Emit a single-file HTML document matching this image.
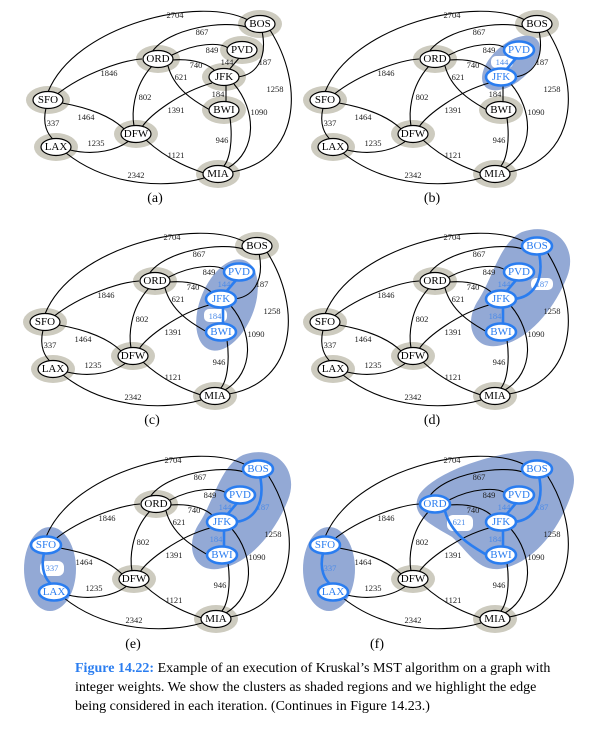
<!DOCTYPE html>
<html><head><meta charset="utf-8"><style>
html,body{margin:0;padding:0;background:#fff;}
svg{display:block;}
.n{font:11px "Liberation Serif",serif;text-anchor:middle;dominant-baseline:central;fill:#000}
.w{font:8.5px "Liberation Serif",serif;text-anchor:middle;dominant-baseline:central;fill:#222}
.nb{fill:#2a7df0}
.wb{fill:#4a8ae8}
.cap{font:14px "Liberation Serif",serif;text-anchor:middle;fill:#000}
.e{fill:none;stroke:#000;stroke-width:1.1}
.eb{fill:none;stroke:#2a7df0;stroke-width:2.6}
.h{fill:#cdcbbf}
.cl{fill:#93a9d5}
.ne{fill:#fff;stroke:#000;stroke-width:1.2}
.neb{fill:#fff;stroke:#2a7df0;stroke-width:2.6}
.hl{fill:#fff}
</style></head><body>
<svg width="603" height="735" viewBox="0 0 603 735" xmlns="http://www.w3.org/2000/svg">
<defs>
<g id="edges">
<path class="e" d="M48,92 C75,25 200,-5 248,20"/>
<path class="e" d="M152,52 C168,28 225,20 246,27"/>
<path class="e" d="M172,55 C195,43 220,42 228,48"/>
<path class="e" d="M172,60 C195,58 210,65 216,72"/>
<path class="e" d="M240,57 L228,71"/>
<path class="e" d="M262,31 C268,60 255,76 236,77"/>
<path class="e" d="M270,30 C305,85 300,160 232,172"/>
<path class="e" d="M56,95 C85,72 125,60 142,59"/>
<path class="e" d="M168,66 C175,92 200,104 210,110"/>
<path class="e" d="M152,66 C132,88 132,115 134,126"/>
<path class="e" d="M226,85 L226,102"/>
<path class="e" d="M212,83 C180,92 150,115 142,127"/>
<path class="e" d="M234,84 C256,110 258,150 228,168"/>
<path class="e" d="M230,118 C233,140 230,160 223,167"/>
<path class="e" d="M46,108 C42,125 48,135 54,140"/>
<path class="e" d="M62,103 C90,108 112,117 124,129"/>
<path class="e" d="M70,150 C95,156 118,150 130,140"/>
<path class="e" d="M146,140 C170,162 195,170 204,173"/>
<path class="e" d="M66,153 C110,188 170,188 204,178"/>
</g>
</defs>

<!-- (a) -->
<g transform="translate(0,0)">
<ellipse class="h" cx="260" cy="24" rx="22" ry="14"/><ellipse class="h" cx="242" cy="50" rx="22" ry="14"/>
<ellipse class="h" cx="158" cy="59" rx="22" ry="14"/><ellipse class="h" cx="224" cy="77" rx="22" ry="14"/>
<ellipse class="h" cx="48" cy="100" rx="22" ry="14"/><ellipse class="h" cx="224" cy="110" rx="22" ry="14"/>
<ellipse class="h" cx="136" cy="134" rx="22" ry="14"/><ellipse class="h" cx="56" cy="147" rx="22" ry="14"/>
<ellipse class="h" cx="218" cy="174" rx="22" ry="14"/>
<use href="#edges"/>
<ellipse class="ne" cx="260" cy="24" rx="15" ry="8.5"/><ellipse class="ne" cx="242" cy="50" rx="15" ry="8.5"/>
<ellipse class="ne" cx="158" cy="59" rx="15" ry="8.5"/><ellipse class="ne" cx="224" cy="77" rx="15" ry="8.5"/>
<ellipse class="ne" cx="48" cy="100" rx="15" ry="8.5"/><ellipse class="ne" cx="224" cy="110" rx="15" ry="8.5"/>
<ellipse class="ne" cx="136" cy="134" rx="15" ry="8.5"/><ellipse class="ne" cx="56" cy="147" rx="15" ry="8.5"/>
<ellipse class="ne" cx="218" cy="174" rx="15" ry="8.5"/>
<text class="n" x="260" y="24">BOS</text><text class="n" x="242" y="50">PVD</text><text class="n" x="158" y="59">ORD</text>
<text class="n" x="224" y="77">JFK</text><text class="n" x="48" y="100">SFO</text><text class="n" x="224" y="110">BWI</text>
<text class="n" x="136" y="134">DFW</text><text class="n" x="56" y="147">LAX</text><text class="n" x="218" y="174">MIA</text>
<text class="w" x="175" y="15">2704</text><text class="w" x="202" y="32">867</text><text class="w" x="212" y="50">849</text>
<text class="w" x="196" y="65">740</text><text class="w" x="227" y="62">144</text><text class="w" x="265" y="62">187</text>
<text class="w" x="275" y="89">1258</text><text class="w" x="109" y="73">1846</text><text class="w" x="181" y="77">621</text>
<text class="w" x="145" y="97">802</text><text class="w" x="218" y="94">184</text><text class="w" x="176" y="110">1391</text>
<text class="w" x="259" y="112">1090</text><text class="w" x="222" y="140">946</text><text class="w" x="53" y="123">337</text>
<text class="w" x="86" y="117">1464</text><text class="w" x="96" y="143">1235</text><text class="w" x="176" y="155">1121</text>
<text class="w" x="136" y="175">2342</text>
<text class="cap" x="155" y="202">(a)</text>
</g>

<!-- (b) -->
<g transform="translate(277,0)">
<ellipse class="h" cx="260" cy="24" rx="22" ry="14"/>
<ellipse class="cl" cx="234" cy="63" rx="35" ry="19" transform="rotate(-42 234 63)"/>
<ellipse class="h" cx="158" cy="59" rx="22" ry="14"/>
<ellipse class="h" cx="48" cy="100" rx="22" ry="14"/><ellipse class="h" cx="224" cy="110" rx="22" ry="14"/>
<ellipse class="h" cx="136" cy="134" rx="22" ry="14"/><ellipse class="h" cx="56" cy="147" rx="22" ry="14"/>
<ellipse class="h" cx="218" cy="174" rx="22" ry="14"/>
<rect class="hl" x="214" y="56" width="22" height="12" rx="5"/>
<use href="#edges"/>
<path class="eb" d="M240,57 L228,71"/>
<ellipse class="ne" cx="260" cy="24" rx="15" ry="8.5"/><ellipse class="neb" cx="242" cy="50" rx="15" ry="8.5"/>
<ellipse class="ne" cx="158" cy="59" rx="15" ry="8.5"/><ellipse class="neb" cx="224" cy="77" rx="15" ry="8.5"/>
<ellipse class="ne" cx="48" cy="100" rx="15" ry="8.5"/><ellipse class="ne" cx="224" cy="110" rx="15" ry="8.5"/>
<ellipse class="ne" cx="136" cy="134" rx="15" ry="8.5"/><ellipse class="ne" cx="56" cy="147" rx="15" ry="8.5"/>
<ellipse class="ne" cx="218" cy="174" rx="15" ry="8.5"/>
<text class="n" x="260" y="24">BOS</text><text class="n nb" x="242" y="50">PVD</text><text class="n" x="158" y="59">ORD</text>
<text class="n nb" x="224" y="77">JFK</text><text class="n" x="48" y="100">SFO</text><text class="n" x="224" y="110">BWI</text>
<text class="n" x="136" y="134">DFW</text><text class="n" x="56" y="147">LAX</text><text class="n" x="218" y="174">MIA</text>
<text class="w" x="175" y="15">2704</text><text class="w" x="202" y="32">867</text><text class="w" x="212" y="50">849</text>
<text class="w" x="196" y="65">740</text><text class="w wb" x="225" y="62">144</text><text class="w" x="265" y="62">187</text>
<text class="w" x="275" y="89">1258</text><text class="w" x="109" y="73">1846</text><text class="w" x="181" y="77">621</text>
<text class="w" x="145" y="97">802</text><text class="w" x="218" y="94">184</text><text class="w" x="176" y="110">1391</text>
<text class="w" x="259" y="112">1090</text><text class="w" x="222" y="140">946</text><text class="w" x="53" y="123">337</text>
<text class="w" x="86" y="117">1464</text><text class="w" x="96" y="143">1235</text><text class="w" x="176" y="155">1121</text>
<text class="w" x="136" y="175">2342</text>
<text class="cap" x="155" y="202">(b)</text>
</g>

<!-- (c) -->
<g transform="translate(-3,222)">
<ellipse class="h" cx="260" cy="24" rx="22" ry="14"/>
<ellipse class="cl" cx="230" cy="83" rx="48" ry="27" transform="rotate(-68 230 83)"/>
<ellipse class="h" cx="158" cy="59" rx="22" ry="14"/>
<ellipse class="h" cx="48" cy="100" rx="22" ry="14"/>
<ellipse class="h" cx="136" cy="134" rx="22" ry="14"/><ellipse class="h" cx="56" cy="147" rx="22" ry="14"/>
<ellipse class="h" cx="218" cy="174" rx="22" ry="14"/>
<rect class="hl" x="207" y="87" width="23" height="13" rx="5"/>
<use href="#edges"/>
<path class="eb" d="M240,57 L228,71"/><path class="eb" d="M226,85 L226,102"/>
<ellipse class="ne" cx="260" cy="24" rx="15" ry="8.5"/><ellipse class="neb" cx="242" cy="50" rx="15" ry="8.5"/>
<ellipse class="ne" cx="158" cy="59" rx="15" ry="8.5"/><ellipse class="neb" cx="224" cy="77" rx="15" ry="8.5"/>
<ellipse class="ne" cx="48" cy="100" rx="15" ry="8.5"/><ellipse class="neb" cx="224" cy="110" rx="15" ry="8.5"/>
<ellipse class="ne" cx="136" cy="134" rx="15" ry="8.5"/><ellipse class="ne" cx="56" cy="147" rx="15" ry="8.5"/>
<ellipse class="ne" cx="218" cy="174" rx="15" ry="8.5"/>
<text class="n" x="260" y="24">BOS</text><text class="n nb" x="242" y="50">PVD</text><text class="n" x="158" y="59">ORD</text>
<text class="n nb" x="224" y="77">JFK</text><text class="n" x="48" y="100">SFO</text><text class="n nb" x="224" y="110">BWI</text>
<text class="n" x="136" y="134">DFW</text><text class="n" x="56" y="147">LAX</text><text class="n" x="218" y="174">MIA</text>
<text class="w" x="175" y="15">2704</text><text class="w" x="202" y="32">867</text><text class="w" x="212" y="50">849</text>
<text class="w" x="196" y="65">740</text><text class="w wb" x="227" y="62">144</text><text class="w" x="265" y="62">187</text>
<text class="w" x="275" y="89">1258</text><text class="w" x="109" y="73">1846</text><text class="w" x="181" y="77">621</text>
<text class="w" x="145" y="97">802</text><text class="w wb" x="218" y="94">184</text><text class="w" x="176" y="110">1391</text>
<text class="w" x="259" y="112">1090</text><text class="w" x="222" y="140">946</text><text class="w" x="53" y="123">337</text>
<text class="w" x="86" y="117">1464</text><text class="w" x="96" y="143">1235</text><text class="w" x="176" y="155">1121</text>
<text class="w" x="136" y="175">2342</text>
<text class="cap" x="155" y="202">(c)</text>
</g>

<!-- (d) -->
<g transform="translate(277,222)">
<path class="cl" d="M245,10 C278,-2 302,25 290,55 C277,88 250,120 220,124 C195,127 186,100 202,77 C216,55 223,20 245,10 Z"/>
<ellipse class="h" cx="158" cy="59" rx="22" ry="14"/>
<ellipse class="h" cx="48" cy="100" rx="22" ry="14"/>
<ellipse class="h" cx="136" cy="134" rx="22" ry="14"/><ellipse class="h" cx="56" cy="147" rx="22" ry="14"/>
<ellipse class="h" cx="218" cy="174" rx="22" ry="14"/>
<rect class="hl" x="254" y="56" width="22" height="12" rx="5"/>
<use href="#edges"/>
<path class="eb" d="M240,57 L228,71"/><path class="eb" d="M226,85 L226,102"/><path class="eb" d="M262,31 C268,60 255,76 236,77"/>
<ellipse class="neb" cx="260" cy="24" rx="15" ry="8.5"/><ellipse class="neb" cx="242" cy="50" rx="15" ry="8.5"/>
<ellipse class="ne" cx="158" cy="59" rx="15" ry="8.5"/><ellipse class="neb" cx="224" cy="77" rx="15" ry="8.5"/>
<ellipse class="ne" cx="48" cy="100" rx="15" ry="8.5"/><ellipse class="neb" cx="224" cy="110" rx="15" ry="8.5"/>
<ellipse class="ne" cx="136" cy="134" rx="15" ry="8.5"/><ellipse class="ne" cx="56" cy="147" rx="15" ry="8.5"/>
<ellipse class="ne" cx="218" cy="174" rx="15" ry="8.5"/>
<text class="n nb" x="260" y="24">BOS</text><text class="n nb" x="242" y="50">PVD</text><text class="n" x="158" y="59">ORD</text>
<text class="n nb" x="224" y="77">JFK</text><text class="n" x="48" y="100">SFO</text><text class="n nb" x="224" y="110">BWI</text>
<text class="n" x="136" y="134">DFW</text><text class="n" x="56" y="147">LAX</text><text class="n" x="218" y="174">MIA</text>
<text class="w" x="175" y="15">2704</text><text class="w" x="202" y="32">867</text><text class="w" x="212" y="50">849</text>
<text class="w" x="196" y="65">740</text><text class="w wb" x="227" y="62">144</text><text class="w wb" x="265" y="62">187</text>
<text class="w" x="275" y="89">1258</text><text class="w" x="109" y="73">1846</text><text class="w" x="181" y="77">621</text>
<text class="w" x="145" y="97">802</text><text class="w wb" x="218" y="94">184</text><text class="w" x="176" y="110">1391</text>
<text class="w" x="259" y="112">1090</text><text class="w" x="222" y="140">946</text><text class="w" x="53" y="123">337</text>
<text class="w" x="86" y="117">1464</text><text class="w" x="96" y="143">1235</text><text class="w" x="176" y="155">1121</text>
<text class="w" x="136" y="175">2342</text>
<text class="cap" x="155" y="202">(d)</text>
</g>

<!-- (e) -->
<g transform="translate(-2,445)">
<path class="cl" d="M245,10 C278,-2 302,25 290,55 C277,88 250,120 220,124 C195,127 186,100 202,77 C216,55 223,20 245,10 Z"/>
<ellipse class="cl" cx="52" cy="124" rx="26" ry="42"/>
<ellipse class="h" cx="158" cy="59" rx="22" ry="14"/>
<ellipse class="h" cx="136" cy="134" rx="22" ry="14"/>
<ellipse class="h" cx="218" cy="174" rx="22" ry="14"/>
<rect class="hl" x="42" y="116" width="24" height="15" rx="6"/>
<use href="#edges"/>
<path class="eb" d="M240,57 L228,71"/><path class="eb" d="M226,85 L226,102"/><path class="eb" d="M262,31 C268,60 255,76 236,77"/>
<path class="eb" d="M46,108 C42,125 48,135 54,140"/>
<ellipse class="neb" cx="260" cy="24" rx="15" ry="8.5"/><ellipse class="neb" cx="242" cy="50" rx="15" ry="8.5"/>
<ellipse class="ne" cx="158" cy="59" rx="15" ry="8.5"/><ellipse class="neb" cx="224" cy="77" rx="15" ry="8.5"/>
<ellipse class="neb" cx="48" cy="100" rx="15" ry="8.5"/><ellipse class="neb" cx="224" cy="110" rx="15" ry="8.5"/>
<ellipse class="ne" cx="136" cy="134" rx="15" ry="8.5"/><ellipse class="neb" cx="56" cy="147" rx="15" ry="8.5"/>
<ellipse class="ne" cx="218" cy="174" rx="15" ry="8.5"/>
<text class="n nb" x="260" y="24">BOS</text><text class="n nb" x="242" y="50">PVD</text><text class="n" x="158" y="59">ORD</text>
<text class="n nb" x="224" y="77">JFK</text><text class="n nb" x="48" y="100">SFO</text><text class="n nb" x="224" y="110">BWI</text>
<text class="n" x="136" y="134">DFW</text><text class="n nb" x="56" y="147">LAX</text><text class="n" x="218" y="174">MIA</text>
<text class="w" x="175" y="15">2704</text><text class="w" x="202" y="32">867</text><text class="w" x="212" y="50">849</text>
<text class="w" x="196" y="65">740</text><text class="w wb" x="227" y="62">144</text><text class="w wb" x="265" y="62">187</text>
<text class="w" x="275" y="89">1258</text><text class="w" x="109" y="73">1846</text><text class="w" x="181" y="77">621</text>
<text class="w" x="145" y="97">802</text><text class="w wb" x="218" y="94">184</text><text class="w" x="176" y="110">1391</text>
<text class="w" x="259" y="112">1090</text><text class="w" x="222" y="140">946</text><text class="w wb" x="54" y="123">337</text>
<text class="w" x="86" y="117">1464</text><text class="w" x="96" y="143">1235</text><text class="w" x="176" y="155">1121</text>
<text class="w" x="136" y="175">2342</text>
<text class="cap" x="135" y="203">(e)</text>
</g>

<!-- (f) -->
<g transform="translate(277,445)">
<path class="cl" d="M142,50 C155,30 205,10 250,6 C285,4 305,20 294,50 C282,85 255,120 222,124 C200,126 190,105 175,92 C155,80 132,70 142,50 Z"/>
<ellipse class="cl" cx="52" cy="124" rx="26" ry="42"/>
<ellipse class="h" cx="136" cy="134" rx="22" ry="14"/>
<ellipse class="h" cx="218" cy="174" rx="22" ry="14"/>
<rect class="hl" x="170" y="70" width="26" height="16" rx="6"/>
<use href="#edges"/>
<path class="eb" d="M240,57 L228,71"/><path class="eb" d="M226,85 L226,102"/><path class="eb" d="M262,31 C268,60 255,76 236,77"/>
<path class="eb" d="M46,108 C42,125 48,135 54,140"/><path class="eb" d="M168,66 C175,92 200,104 210,110"/>
<ellipse class="neb" cx="260" cy="24" rx="15" ry="8.5"/><ellipse class="neb" cx="242" cy="50" rx="15" ry="8.5"/>
<ellipse class="neb" cx="158" cy="59" rx="15" ry="8.5"/><ellipse class="neb" cx="224" cy="77" rx="15" ry="8.5"/>
<ellipse class="neb" cx="48" cy="100" rx="15" ry="8.5"/><ellipse class="neb" cx="224" cy="110" rx="15" ry="8.5"/>
<ellipse class="ne" cx="136" cy="134" rx="15" ry="8.5"/><ellipse class="neb" cx="56" cy="147" rx="15" ry="8.5"/>
<ellipse class="ne" cx="218" cy="174" rx="15" ry="8.5"/>
<text class="n nb" x="260" y="24">BOS</text><text class="n nb" x="242" y="50">PVD</text><text class="n nb" x="158" y="59">ORD</text>
<text class="n nb" x="224" y="77">JFK</text><text class="n nb" x="48" y="100">SFO</text><text class="n nb" x="224" y="110">BWI</text>
<text class="n" x="136" y="134">DFW</text><text class="n nb" x="56" y="147">LAX</text><text class="n" x="218" y="174">MIA</text>
<text class="w" x="175" y="15">2704</text><text class="w" x="202" y="32">867</text><text class="w" x="212" y="50">849</text>
<text class="w" x="196" y="65">740</text><text class="w wb" x="227" y="62">144</text><text class="w wb" x="265" y="62">187</text>
<text class="w" x="275" y="89">1258</text><text class="w" x="109" y="73">1846</text><text class="w wb" x="182" y="77">621</text>
<text class="w" x="145" y="97">802</text><text class="w wb" x="218" y="94">184</text><text class="w" x="176" y="110">1391</text>
<text class="w" x="259" y="112">1090</text><text class="w" x="222" y="140">946</text><text class="w wb" x="53" y="123">337</text>
<text class="w" x="86" y="117">1464</text><text class="w" x="96" y="143">1235</text><text class="w" x="176" y="155">1121</text>
<text class="w" x="136" y="175">2342</text>
<text class="cap" x="100" y="203">(f)</text>
</g>

<text x="75" y="672" style="font:14px 'Liberation Serif',serif;fill:#000"><tspan style="fill:#2a7df0;font-weight:bold">Figure 14.22:</tspan> Example of an execution of Kruskal’s MST algorithm on a graph with</text>
<text x="75" y="691" style="font:14px 'Liberation Serif',serif;fill:#000">integer weights. We show the clusters as shaded regions and we highlight the edge</text>
<text x="75" y="710" style="font:14px 'Liberation Serif',serif;fill:#000">being considered in each iteration. (Continues in Figure 14.23.)</text>
</svg>
</body></html>
